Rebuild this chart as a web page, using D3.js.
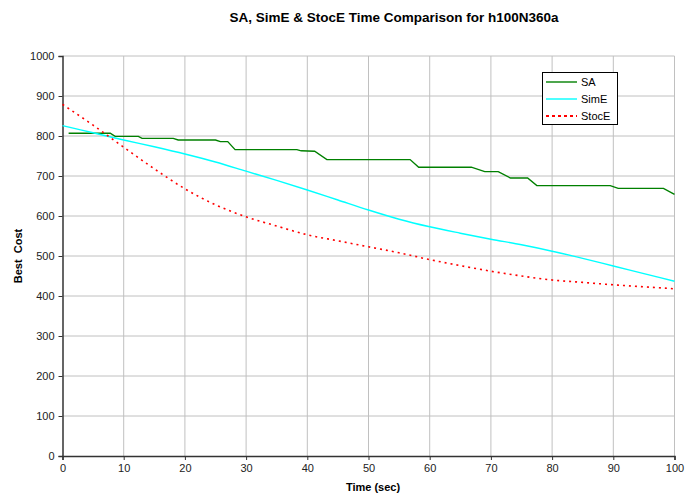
<!DOCTYPE html>
<html><head><meta charset="utf-8">
<script src="https://cdn.jsdelivr.net/npm/d3@7"></script>
<style>body{margin:0;background:#fff;}svg{display:block;font-family:"Liberation Sans",Arial,sans-serif;}</style>
</head><body><svg id="c" width="685" height="498"></svg>
<script>
const title = "SA, SimE & StocE Time Comparison for h100N360a";
const xLabel = "Time (sec)";
const yLabel = "Best\u00A0\u00A0Cost";
const xTicks = [0,10,20,30,40,50,60,70,80,90,100];
const yTicks = [0,100,200,300,400,500,600,700,800,900,1000];
const seriesNames = ["SA","SimE","StocE"];
const seriesColors = ["#008000","#00FFFF","#FF0000"];
const saT = [1,7.8,8.6,12.4,13,18.1,18.9,25,25.8,27,28.2,38.3,39,41.2,43.2,56.8,58.2,66.8,69,71.2,73.2,76,77.5,89.5,90.8,98.2,100];
const saV = [807,807,799,799,794,794,790,790,786,786,766,766,763,762,741,741,722,722,711,711,695,695,676,676,669,669,654];
const simT = [0,5,10,15,20,25,30,35,40,45,50,55,60,65,70,75,80,85,90,95,100];
const simV = [826,808,790,773,755,735,712,689,665,640,615,592,573,557,542,528,512,494,475,456,437];
const stocT = [0,5,10,15,20,25,30,35,40,45,50,55,60,65,70,75,80,85,90,95,100];
const stocV = [879,827,772,718,668,628,598,575,553,538,523,508,491,476,462,450,440,434,428,423,418];

const svg = d3.select("#c");
const x = d3.scaleLinear().domain([0,100]).range([62.5,674.5]);
const y = d3.scaleLinear().domain([0,1000]).range([456,56]);

// grid
svg.append("g").selectAll("line").data(yTicks.filter(d=>d>0)).join("line")
  .attr("x1",x(0)).attr("x2",x(100)).attr("y1",d=>y(d)).attr("y2",d=>y(d))
  .attr("stroke","#c0c0c0").attr("stroke-width",1);
svg.append("g").selectAll("line").data(xTicks.filter(d=>d>0)).join("line")
  .attr("y1",y(0)).attr("y2",y(1000)).attr("x1",d=>x(d)).attr("x2",d=>x(d))
  .attr("stroke","#c0c0c0").attr("stroke-width",1);

// axes
const gx = svg.append("g").attr("transform",`translate(0,${y(0)})`)
  .call(d3.axisBottom(x).tickValues(xTicks).tickSize(4).tickPadding(4).tickFormat(d3.format("d")));
const gy = svg.append("g").attr("transform",`translate(${x(0)},0)`)
  .call(d3.axisLeft(y).tickValues(yTicks).tickSize(4).tickPadding(4).tickFormat(d3.format("d")));
[gx,gy].forEach(g=>{
  g.select(".domain").attr("stroke","#333").attr("stroke-width",1.5);
  g.selectAll(".tick line").attr("stroke","#333");
  g.selectAll(".tick text").attr("font-size",11).attr("fill","#222").attr("font-family","Liberation Sans, Arial, sans-serif");
});

// lines
const mk = (T,V)=>T.map((t,i)=>[t,V[i]]);
const line = d3.line().x(d=>x(d[0])).y(d=>y(d[1]));
const lineSmooth = d3.line().x(d=>x(d[0])).y(d=>y(d[1])).curve(d3.curveMonotoneX);
svg.append("path").attr("d",line(mk(saT,saV))).attr("fill","none").attr("stroke",seriesColors[0]).attr("stroke-width",1.4);
svg.append("path").attr("d",lineSmooth(mk(simT,simV))).attr("fill","none").attr("stroke",seriesColors[1]).attr("stroke-width",1.4);
svg.append("path").attr("d",lineSmooth(mk(stocT,stocV))).attr("fill","none").attr("stroke",seriesColors[2]).attr("stroke-width",1.6).attr("stroke-dasharray","2,4");

// texts
svg.append("text").attr("x",394).attr("y",22).attr("text-anchor","middle").attr("font-size",13.5).attr("font-weight","bold").text(title);
svg.append("text").attr("x",373).attr("y",491).attr("text-anchor","middle").attr("font-size",11).attr("font-weight","bold").text(xLabel);
svg.append("text").attr("transform","translate(22,256) rotate(-90)").attr("text-anchor","middle").attr("font-size",11).attr("font-weight","bold").text(yLabel);

// legend
const lg = svg.append("g");
lg.append("rect").attr("x",542.5).attr("y",72.5).attr("width",75).attr("height",52).attr("fill","#fff").attr("stroke","#000").attr("stroke-width",1);
seriesNames.forEach((n,i)=>{
  const yy = 82 + i*17;
  lg.append("line").attr("x1",546).attr("x2",577).attr("y1",yy).attr("y2",yy)
    .attr("stroke",seriesColors[i]).attr("stroke-width",i===2?2:1.4).attr("stroke-dasharray",i===2?"3,3":null);
  lg.append("text").attr("x",581).attr("y",yy+4).attr("font-size",11).text(n);
});
</script></body></html>
